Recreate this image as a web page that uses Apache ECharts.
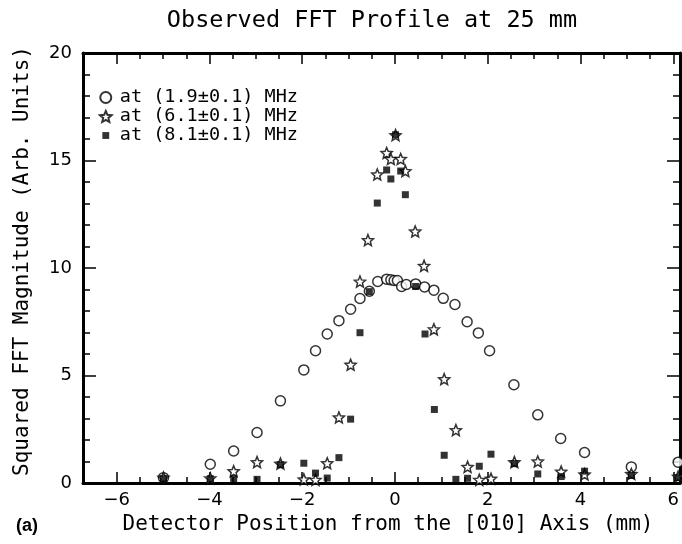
<!DOCTYPE html>
<html><head><meta charset="utf-8">
<script src="https://cdn.jsdelivr.net/npm/echarts@6/dist/echarts.min.js"></script>
<style>html,body{margin:0;padding:0;background:#fff}#c{width:682px;height:544px}</style>
</head><body><div id="c"></div>
<script>
// ---- data ----
const circleX = [-5, -4, -3.5, -3, -2.5, -2, -1.75, -1.5, -1.25, -1, -0.8, -0.6, -0.42, -0.23, -0.14, -0.07, 0, 0.09, 0.19, 0.39, 0.58, 0.78, 0.98, 1.23, 1.49, 1.73, 1.97, 2.49, 3, 3.49, 4, 5, 6];
const circleY = [0.25, 0.87, 1.49, 2.35, 3.82, 5.26, 6.15, 6.93, 7.55, 8.08, 8.58, 8.92, 9.37, 9.48, 9.45, 9.42, 9.42, 9.14, 9.23, 9.26, 9.12, 8.97, 8.59, 8.3, 7.5, 6.98, 6.15, 4.57, 3.17, 2.07, 1.42, 0.75, 0.97];
const starX = [-5, -4, -3.5, -3, -2.5, -2, -1.75, -1.5, -1.25, -1, -0.8, -0.63, -0.43, -0.23, -0.14, -0.04, 0.07, 0.17, 0.38, 0.57, 0.78, 1, 1.25, 1.5, 1.75, 2, 2.5, 3, 3.5, 4, 5, 6];
const starY = [0.25, 0.22, 0.55, 0.97, 0.9, 0.17, 0.15, 0.92, 3.05, 5.5, 9.37, 11.3, 14.35, 15.35, 15.07, 16.18, 15.07, 14.51, 11.7, 10.1, 7.15, 4.83, 2.46, 0.75, 0.15, 0.2, 0.97, 1.0, 0.53, 0.4, 0.42, 0.3];
const squareX = [-5, -4, -3.5, -3, -2.5, -2, -1.75, -1.5, -1.25, -1, -0.8, -0.6, -0.43, -0.23, -0.14, -0.04, 0.07, 0.17, 0.39, 0.59, 0.79, 1, 1.25, 1.5, 1.75, 2, 2.5, 3, 3.5, 4, 5, 6];
const squareY = [0.2, 0.2, 0.2, 0.17, 0.85, 0.92, 0.46, 0.23, 1.18, 2.97, 6.99, 8.9, 13.02, 14.56, 14.14, 16.2, 14.51, 13.41, 9.14, 6.93, 3.42, 1.29, 0.17, 0.22, 0.78, 1.34, 0.9, 0.42, 0.3, 0.55, 0.35, 0.25];
const seriesNames = ['at (1.9±0.1) MHz', 'at (6.1±0.1) MHz', 'at (8.1±0.1) MHz'];
const titleText = 'Observed FFT Profile at 25 mm';
const xTitle = 'Detector Position from the [010] Axis (mm)';
const yTitle = 'Squared FFT Magnitude (Arb. Units)';
const panelLabel = '(a)';

// ---- layout ----
const W = 682, H = 544;
const G = {left: 83, right: 2, top: 53, bottom: 61};
const frameXMin = -6.72, frameXMax = 6.04;       // visible x extent of the frame
const tickXMin = -6, tickXMax = 6;               // labelled tick range
const plotW = W - G.left - G.right;
const tickLeft = G.left + plotW * (tickXMin - frameXMin) / (frameXMax - frameXMin);
const tickRight = G.right + plotW * (frameXMax - tickXMax) / (frameXMax - frameXMin);

const zip = (xs, ys) => xs.map((x, i) => [x, ys[i]]);
const STAR = 'path://M0,-10 L2.65,-3.64 L9.51,-3.09 L4.28,1.39 L5.88,8.09 L0,4.5 L-5.88,8.09 L-4.28,1.39 L-9.51,-3.09 L-2.65,-3.64 Z';
const SQUARE = 'path://M0,0 L10,0 L10,10 L0,10 Z';
const SQUARE_ICON = 'path://M-3,-3 L-3,-3 M0,0 L10,0 L10,10 L0,10 Z M13,13 L13,13';
const MONO = 'DejaVu Sans Mono';
const SANS = 'DejaVu Sans';

const chart = echarts.init(document.getElementById('c'), null, {renderer: 'canvas'});
const frameLine = {color: '#000', width: 3};
const tickLine = {color: '#000', width: 1.5};

const frameX = pos => ({
  type: 'value', gridIndex: 0, position: pos, min: frameXMin, max: frameXMax,
  axisLine: {show: true, onZero: false, lineStyle: frameLine},
  axisTick: {show: false}, axisLabel: {show: false}, splitLine: {show: false}
});
const tickX = pos => ({
  type: 'value', gridIndex: 1, position: pos, min: tickXMin, max: tickXMax, interval: 2,
  axisLine: {show: false, onZero: false},
  axisTick: {show: true, inside: true, length: 11, lineStyle: tickLine},
  minorTick: {show: true, splitNumber: 4, length: 6, lineStyle: tickLine},
  splitLine: {show: false}, minorSplitLine: {show: false},
  axisLabel: pos === 'bottom' ? {
    show: true, margin: 8, color: '#000', fontFamily: SANS, fontSize: 18,
    formatter: v => v < 0 ? '\u2212' + Math.abs(v) : String(v)
  } : {show: false}
});
const frameY = pos => ({
  type: 'value', gridIndex: 0, position: pos, min: 0, max: 20, interval: 5,
  axisLine: {show: true, onZero: false, lineStyle: frameLine},
  axisTick: {show: true, inside: true, length: 13, lineStyle: tickLine},
  minorTick: {show: true, splitNumber: 5, length: 7, lineStyle: tickLine},
  splitLine: {show: false}, minorSplitLine: {show: false},
  axisLabel: pos === 'left' ? {show: true, margin: 11, color: '#000', fontFamily: SANS, fontSize: 18} : {show: false}
});

chart.setOption({
  animation: false,
  backgroundColor: '#fff',
  title: {
    text: titleText, left: 367, textAlign: 'center', top: 4,
    textStyle: {fontFamily: MONO, fontSize: 23.5, fontWeight: 'normal', color: '#000'}
  },
  legend: {
    orient: 'vertical', left: 94, top: 83, itemWidth: 18, itemHeight: 11, itemGap: 0,
    textStyle: {fontFamily: MONO, fontSize: 18.5, lineHeight: 17.5, color: '#000'},
    data: [
      {name: seriesNames[0]},
      {name: seriesNames[1]},
      {name: seriesNames[2], icon: SQUARE_ICON}
    ]
  },
  grid: [
    {left: G.left, right: G.right, top: G.top, bottom: G.bottom},
    {left: tickLeft, right: tickRight, top: G.top, bottom: G.bottom}
  ],
  xAxis: [frameX('bottom'), frameX('top'), tickX('bottom'), tickX('top')],
  yAxis: [frameY('left'), frameY('right'),
    {type: 'value', gridIndex: 1, min: 0, max: 20, show: false}],
  graphic: [
    {type: 'text', x: 23, y: 261, rotation: Math.PI / 2,
     style: {text: yTitle, font: '21px "DejaVu Sans Mono"', fill: '#000', textAlign: 'center', textVerticalAlign: 'middle'}},
    {type: 'text', x: 388, y: 525,
     style: {text: xTitle, font: '21px "DejaVu Sans Mono"', fill: '#000', textAlign: 'center', textVerticalAlign: 'middle'}},
    {type: 'text', x: 16, y: 526,
     style: {text: panelLabel, font: 'bold 18px "Liberation Sans"', fill: '#000', textAlign: 'left', textVerticalAlign: 'middle'}}
  ],
  series: [
    {
      name: seriesNames[0], type: 'scatter', xAxisIndex: 0, yAxisIndex: 0,
      data: zip(circleX, circleY), symbol: 'circle', symbolSize: 10, clip: false,
      itemStyle: {color: '#fff', borderColor: '#000', borderWidth: 1.5}, z: 2
    },
    {
      name: seriesNames[1], type: 'scatter', xAxisIndex: 0, yAxisIndex: 0,
      data: zip(starX, starY), symbol: STAR, symbolSize: 11, clip: false,
      itemStyle: {color: '#fff', borderColor: '#000', borderWidth: 1.5}, z: 3
    },
    {
      name: seriesNames[2], type: 'scatter', xAxisIndex: 0, yAxisIndex: 0,
      data: zip(squareX, squareY), symbol: SQUARE, symbolSize: 7, clip: false,
      itemStyle: {color: '#000', borderWidth: 0}, z: 4
    }
  ]
});
</script></body></html>
